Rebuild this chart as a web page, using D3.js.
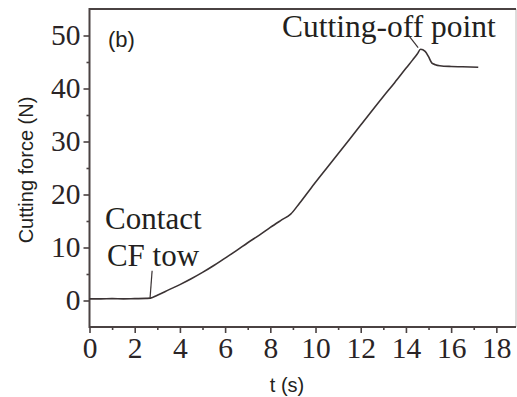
<!DOCTYPE html>
<html>
<head>
<meta charset="utf-8">
<script src="https://cdn.jsdelivr.net/npm/d3@7"></script>
<style>
  body { margin: 0; background: #fff; }
  svg { display: block; }
  .tick text { font-family: "Liberation Serif", "Times New Roman", serif; font-size: 29.5px; fill: #2a2426; }
  .domain { display: none; }
  .tick line { stroke: #4a4242; stroke-width: 1.6; }
</style>
</head>
<body>
<div id="chart"></div>
<script>
// Data
const time = [0, 0.5, 1, 1.5, 2, 2.5, 2.7, 3.0, 3.5, 4, 4.5, 5, 5.5, 6, 6.5, 7, 7.5, 8, 8.5, 8.9,
  9.3, 9.8, 10.5, 11, 12, 13, 13.5, 14, 14.3, 14.5, 14.65, 14.85, 15.0, 15.15, 15.3, 15.5, 16, 16.5, 17.2];
const force = [0.3, 0.3, 0.35, 0.3, 0.35, 0.4, 0.45, 1.0, 2.0, 3.0, 4.1, 5.3, 6.6, 8.0, 9.4, 10.9, 12.3, 13.8, 15.2, 16.3,
  18.4, 21.2, 25.0, 27.7, 33.1, 38.5, 41.1, 43.8, 45.4, 46.5, 47.4, 47.0, 46.0, 44.8, 44.5, 44.3, 44.15, 44.1, 44.0];

const xTicks = [0, 2, 4, 6, 8, 10, 12, 14, 16, 18];
const xMinor = [1, 3, 5, 7, 9, 11, 13, 15, 17];
const yTicks = [0, 10, 20, 30, 40, 50];
const yMinor = [5, 15, 25, 35, 45];

const width = 517;
const height = 397;
const plotLeft = 89.5, plotRight = 516, plotTop = 9, plotBottom = 327;

const x = d3.scaleLinear().domain([0, 18.87]).range([plotLeft, plotRight]);
const y = d3.scaleLinear().domain([-5, 55]).range([plotBottom, plotTop]);

const svg = d3.select('#chart')
  .append('svg')
  .attr('width', width)
  .attr('height', height);

const axisColor = '#4a4242';

// minor ticks
svg.append('g')
  .attr('transform', `translate(0,${plotBottom})`)
  .call(d3.axisBottom(x).tickValues(xMinor).tickSize(3).tickFormat(''));
svg.append('g')
  .attr('transform', `translate(${plotLeft},0)`)
  .call(d3.axisLeft(y).tickValues(yMinor).tickSize(3).tickFormat(''));

// major ticks
svg.append('g')
  .attr('transform', `translate(0,${plotBottom})`)
  .call(d3.axisBottom(x).tickValues(xTicks).tickSize(6).tickPadding(4.5));
svg.append('g')
  .attr('transform', `translate(${plotLeft},0)`)
  .call(d3.axisLeft(y).tickValues(yTicks).tickSize(6).tickPadding(3));

// frame
svg.append('line')
  .attr('x1', plotRight).attr('x2', plotRight).attr('y1', plotTop).attr('y2', plotBottom)
  .attr('stroke', '#bdb8b8').attr('stroke-width', 1);
svg.append('line')
  .attr('x1', plotLeft).attr('x2', plotRight).attr('y1', plotTop).attr('y2', plotTop)
  .attr('stroke', axisColor).attr('stroke-width', 2);
svg.append('line')
  .attr('x1', plotLeft).attr('x2', plotRight).attr('y1', plotBottom).attr('y2', plotBottom)
  .attr('stroke', axisColor).attr('stroke-width', 2);
svg.append('line')
  .attr('x1', plotLeft).attr('x2', plotLeft).attr('y1', plotTop - 1).attr('y2', plotBottom + 1)
  .attr('stroke', axisColor).attr('stroke-width', 2);

// curve
const line = d3.line()
  .x((d, i) => x(time[i]))
  .y(d => y(d))
  .curve(d3.curveMonotoneX);

svg.append('path')
  .datum(force)
  .attr('fill', 'none')
  .attr('stroke', '#3b3334')
  .attr('stroke-width', 1.6)
  .attr('d', line);

// annotations
const serif = '"Liberation Serif", "Times New Roman", serif';
const sans = '"Liberation Sans", Arial, sans-serif';
const textColor = '#231f20';

svg.append('text')
  .attr('x', x(0.82)).attr('y', y(47.9))
  .attr('font-family', sans).attr('font-size', 22).attr('fill', textColor)
  .text('(b)');

svg.append('text')
  .attr('x', x(8.52)).attr('y', y(49.75))
  .attr('font-family', serif).attr('font-size', 31.5).attr('fill', textColor)
  .text('Cutting-off point');

svg.append('line')
  .attr('x1', x(14.1)).attr('y1', y(50.1))
  .attr('x2', x(14.54)).attr('y2', y(47.7))
  .attr('stroke', '#3b3334').attr('stroke-width', 1.2);

svg.append('text')
  .attr('x', x(0.69)).attr('y', y(13.5))
  .attr('font-family', serif).attr('font-size', 31).attr('fill', textColor)
  .text('Contact');
svg.append('text')
  .attr('x', x(0.77)).attr('y', y(6.5))
  .attr('font-family', serif).attr('font-size', 31).attr('fill', textColor)
  .text('CF tow');

svg.append('line')
  .attr('x1', x(2.77)).attr('y1', y(5.6))
  .attr('x2', x(2.68)).attr('y2', y(0.5))
  .attr('stroke', '#3b3334').attr('stroke-width', 1.2);

// axis titles
svg.append('text')
  .attr('transform', 'translate(33,170) rotate(-90)')
  .attr('text-anchor', 'middle')
  .attr('font-family', sans).attr('font-size', 20).attr('fill', textColor)
  .text('Cutting force (N)');

svg.append('text')
  .attr('x', 287).attr('y', 392)
  .attr('text-anchor', 'middle')
  .attr('font-family', sans).attr('font-size', 20).attr('fill', textColor)
  .text('t (s)');
</script>
</body>
</html>
